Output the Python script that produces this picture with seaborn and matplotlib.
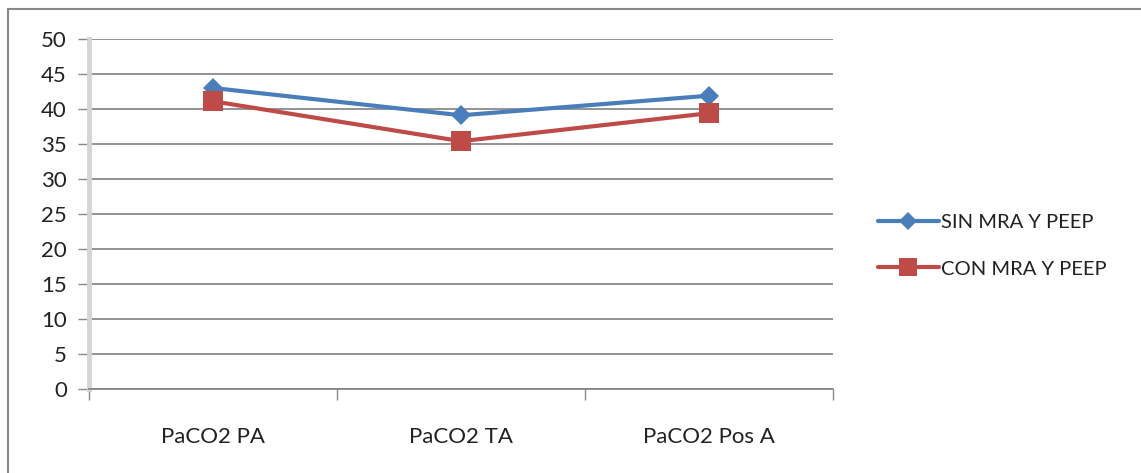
import matplotlib
matplotlib.use("Agg")
import matplotlib.pyplot as plt
import seaborn as sns
import pandas as pd
from matplotlib.patches import Rectangle
from matplotlib.ticker import FixedLocator
from matplotlib.lines import Line2D

categories = ["PaCO2 PA", "PaCO2 TA", "PaCO2 Pos A"]
sin_vals = [43.0, 39.1, 41.9]
con_vals = [41.1, 35.4, 39.4]
series_names = ["SIN MRA Y PEEP", "CON MRA Y PEEP"]
yticks = [0, 5, 10, 15, 20, 25, 30, 35, 40, 45, 50]

df = pd.DataFrame({
    "x": list(range(len(categories))) * 2,
    "val": sin_vals + con_vals,
    "serie": [series_names[0]] * 3 + [series_names[1]] * 3,
})

sns.set_theme(style="white")
plt.rcParams['font.family'] = ['Lato', 'DejaVu Sans']

W, H = 1141, 473
fig = plt.figure(figsize=(W / 100, H / 100), dpi=100)
ax = fig.add_axes([89 / W, 1 - 389 / H, (833 - 89) / W, (389 - 39) / H])

colors = {series_names[0]: "#4a7ebb", series_names[1]: "#be4b48"}
markers = {series_names[0]: "D", series_names[1]: "s"}
msize = {series_names[0]: 10, series_names[1]: 14}
sns.lineplot(data=df, x="x", y="val", hue="serie", style="serie",
             palette=colors, markers=markers, dashes=False, linewidth=3,
             markersize=12, markeredgewidth=0, ax=ax, legend=False)
for line in ax.lines:
    if line.get_marker() == "D":
        line.set_markersize(msize[series_names[0]])
    elif line.get_marker() == "s":
        line.set_markersize(msize[series_names[1]])

ax.set_xlim(-0.5, 2.5)
ax.set_ylim(0, 50)
ax.set_yticks(yticks)
ax.set_yticklabels([str(v) for v in yticks], fontsize=16, color="#222222")
ax.set_xticks(range(len(categories)))
ax.set_xticklabels(categories, fontsize=16, color="#222222")
ax.xaxis.set_minor_locator(FixedLocator([-0.5, 0.5, 1.5, 2.5]))
ax.tick_params(axis="x", which="major", length=0, pad=27)
ax.tick_params(axis="x", which="minor", length=8, width=1, color="#888888", direction="out", bottom=True)
ax.tick_params(axis="y", length=8, width=1, color="#888888", direction="out", left=True, pad=8)
ax.set_xlabel("")
ax.set_ylabel("")
ax.grid(axis="y", color="#808080", linewidth=1.2)
ax.set_axisbelow(True)
for s in ["top", "right"]:
    ax.spines[s].set_visible(False)
ax.spines["left"].set_color("#d4d4d4")
ax.spines["left"].set_linewidth(3.5)
ax.spines["bottom"].set_color("#808080")
ax.spines["bottom"].set_linewidth(1.2)

handles = [Line2D([], [], color=colors[n], marker=markers[n], lw=3,
                  markersize=msize[n] - 1, markeredgewidth=0)
           for n in series_names]
fig.legend(handles, series_names, loc="upper left", bbox_to_anchor=(860 / W, 1 - 196 / H),
           frameon=False, fontsize=14.5, handlelength=3.0, handletextpad=0.1,
           labelspacing=1.45, labelcolor="#222222")

fig.patches.append(Rectangle((8 / W, -0.1), 1.2, 1.1 - 9 / H, transform=fig.transFigure,
                             fill=False, edgecolor="#888888", linewidth=1.5))

fig.savefig("out.png", dpi=100)
